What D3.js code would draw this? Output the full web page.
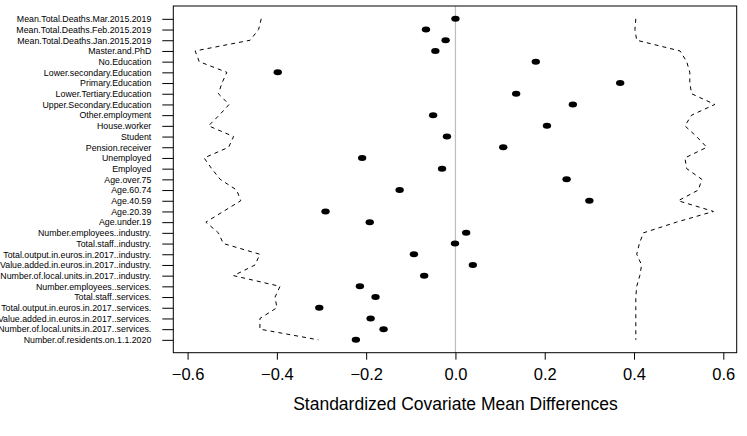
<!DOCTYPE html>
<html>
<head>
<meta charset="utf-8">
<script src="https://cdn.jsdelivr.net/npm/d3@7"></script>
<style>
  html, body { margin: 0; padding: 0; background: #fff; }
  svg { display: block; font-family: "Liberation Sans", Arial, Helvetica, sans-serif; }
</style>
</head>
<body>
<svg id="chart" width="747" height="436"></svg>
<script>
// Covariate names, top to bottom
const covariates = [
  "Mean.Total.Deaths.Mar.2015.2019",
  "Mean.Total.Deaths.Feb.2015.2019",
  "Mean.Total.Deaths.Jan.2015.2019",
  "Master.and.PhD",
  "No.Education",
  "Lower.secondary.Education",
  "Primary.Education",
  "Lower.Tertiary.Education",
  "Upper.Secondary.Education",
  "Other.employment",
  "House.worker",
  "Student",
  "Pension.receiver",
  "Unemployed",
  "Employed",
  "Age.over.75",
  "Age.60.74",
  "Age.40.59",
  "Age.20.39",
  "Age.under.19",
  "Number.employees..industry.",
  "Total.staff..industry.",
  "Total.output.in.euros.in.2017..industry.",
  "Value.added.in.euros.in.2017..industry.",
  "Number.of.local.units.in.2017..industry.",
  "Number.employees..services.",
  "Total.staff..services.",
  "Total.output.in.euros.in.2017..services.",
  "Value.added.in.euros.in.2017..services.",
  "Number.of.local.units.in.2017..services.",
  "Number.of.residents.on.1.1.2020"
];

// Standardized mean differences (same order)
const meanDiffs = [
  0.000, -0.066, -0.022, -0.045, 0.180, -0.398, 0.369, 0.136, 0.263, -0.050,
  0.205, -0.019, 0.107, -0.209, -0.030, 0.249, -0.125, 0.300, -0.291, -0.192,
  0.024, -0.001, -0.093, 0.039, -0.070, -0.214, -0.179, -0.305, -0.190, -0.161,
  -0.223
];

// Lower reference bound (dashed, left)
const lowerBound = [
  -0.435, -0.441, -0.460, -0.583, -0.574, -0.512, -0.523, -0.531, -0.507, -0.529,
  -0.553, -0.497, -0.508, -0.563, -0.546, -0.527, -0.490, -0.481, -0.520, -0.559,
  -0.531, -0.520, -0.438, -0.449, -0.497, -0.393, -0.404, -0.400, -0.438, -0.438,
  -0.307
];

// Upper reference bound (dashed, right)
const upperBound = [
  0.404, 0.402, 0.406, 0.503, 0.518, 0.525, 0.525, 0.529, 0.581, 0.529,
  0.514, 0.540, 0.563, 0.514, 0.518, 0.552, 0.544, 0.499, 0.578, 0.495,
  0.421, 0.412, 0.406, 0.417, 0.413, 0.406, 0.404, 0.404, 0.404, 0.404,
  0.404
];

const xTicks = [-0.6, -0.4, -0.2, 0.0, 0.2, 0.4, 0.6];
const xTitle = "Standardized Covariate Mean Differences";

const n = covariates.length;
const rows = covariates.map((name, i) => ({
  name, pos: n - i, diff: meanDiffs[i], lo: lowerBound[i], hi: upperBound[i]
}));

const box = { left: 173.3, right: 736.7, top: 6, bottom: 352.7 };
const svg = d3.select("#chart");

const x = d3.scaleLinear().domain([-0.632, 0.630]).range([box.left, box.right]);
const y = d3.scaleLinear().domain([1 - 1.2, n + 1.2]).range([box.bottom, box.top]);

// zero reference line
svg.append("line")
  .attr("x1", x(0)).attr("x2", x(0))
  .attr("y1", box.top).attr("y2", box.bottom)
  .attr("stroke", "#bebebe").attr("stroke-width", 1.2);

// dashed bounds
const lineLo = d3.line().x(d => x(d.lo)).y(d => y(d.pos));
const lineHi = d3.line().x(d => x(d.hi)).y(d => y(d.pos));
svg.append("path").datum(rows).attr("d", lineLo)
  .attr("fill", "none").attr("stroke", "#000").attr("stroke-width", 1)
  .attr("stroke-dasharray", "4,4");
svg.append("path").datum(rows).attr("d", lineHi)
  .attr("fill", "none").attr("stroke", "#000").attr("stroke-width", 1)
  .attr("stroke-dasharray", "4,4");

// points
svg.append("g").selectAll("ellipse").data(rows).join("ellipse")
  .attr("cx", d => x(d.diff)).attr("cy", d => y(d.pos))
  .attr("rx", 4.2).attr("ry", 3)
  .attr("fill", "#000");

// box
svg.append("rect")
  .attr("x", box.left).attr("y", box.top)
  .attr("width", box.right - box.left).attr("height", box.bottom - box.top)
  .attr("fill", "none").attr("stroke", "#000").attr("stroke-width", 1);

// x axis
const xAxis = d3.axisBottom(x).tickValues(xTicks).tickSize(7).tickPadding(9)
  .tickFormat(d3.format(".1f"));
const gx = svg.append("g").attr("transform", `translate(0,${box.bottom})`).call(xAxis);
gx.select(".domain").remove();
gx.selectAll("text").attr("font-size", 16.5).attr("fill", "#000")
  .attr("font-family", "'Liberation Sans', Arial, sans-serif");
gx.selectAll("line").attr("stroke", "#000");

// y axis
const yAxis = d3.axisLeft(y).tickValues(rows.map(d => d.pos)).tickSize(11).tickPadding(11)
  .tickFormat(p => covariates[n - p]);
const gy = svg.append("g").attr("transform", `translate(${box.left},0)`).call(yAxis);
gy.select(".domain").remove();
gy.selectAll("text").attr("font-size", 8.8).attr("fill", "#000")
  .attr("font-family", "'Liberation Sans', Arial, sans-serif");
gy.selectAll("line").attr("stroke", "#000");

// x title
svg.append("text")
  .attr("x", x(0)).attr("y", 410)
  .attr("text-anchor", "middle")
  .attr("font-size", 17.5)
  .attr("fill", "#000")
  .text(xTitle);
</script>
</body>
</html>
